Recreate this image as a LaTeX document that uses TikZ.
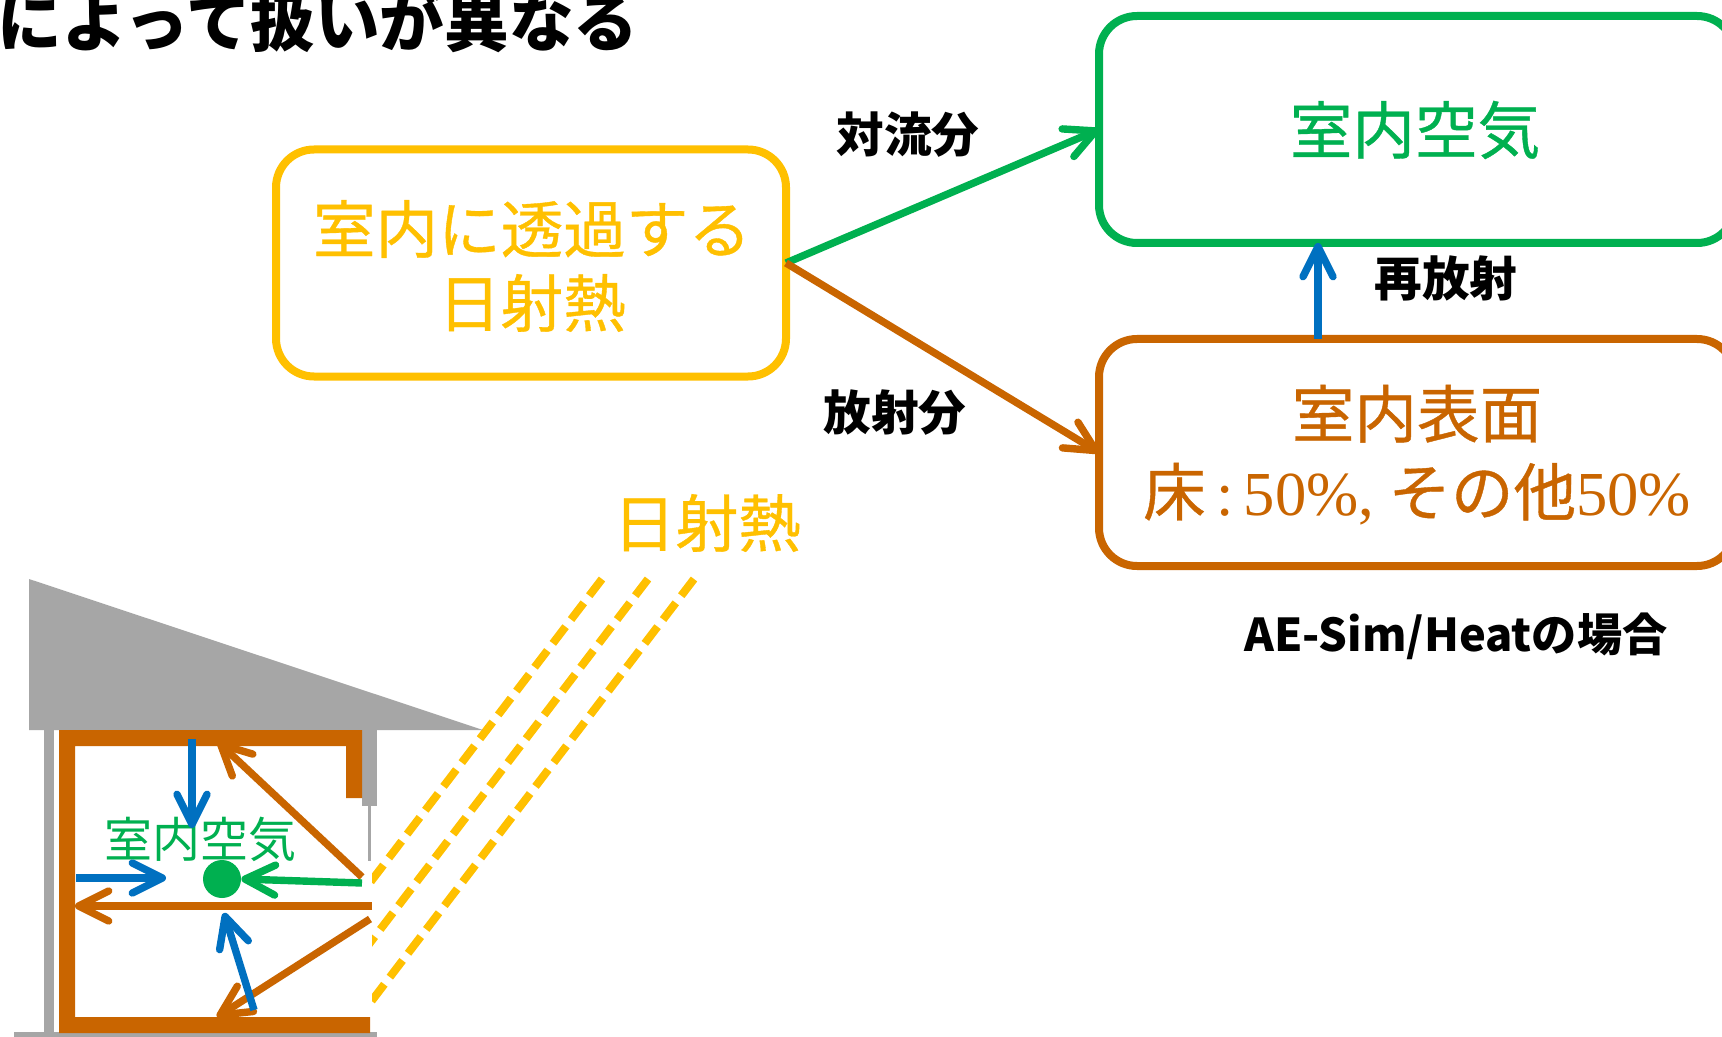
\documentclass[tikz,border=0pt]{standalone}
\usepackage{fontspec}
\setmainfont{Noto Sans CJK JP}
\newfontfamily\heavyfont[FakeBold=0.6]{Noto Sans CJK JP}
\newfontfamily\timesfont{Liberation Serif}
\usetikzlibrary{arrows.meta,calc}
\definecolor{heatYellow}{RGB}{255,192,0}
\definecolor{airGreen}{RGB}{0,176,80}
\definecolor{wallBrown}{RGB}{201,101,0}
\definecolor{radBlue}{RGB}{0,112,192}
\definecolor{houseGray}{RGB}{166,166,166}
\tikzset{
    box/.style={rectangle, rounded corners=19pt, line width=4pt, fill=white, outer sep=0pt,
                minimum height=113.5pt},
    bigtext/.style={font=\fontsize{31.3pt}{36pt}\selectfont\heavyfont, align=center, inner sep=0pt},
    boldtext/.style={font=\fontsize{23.8pt}{28pt}\selectfont\bfseries, text=black, inner sep=0pt},
    flow/.style={-{Straight Barb[length=15pt,width=15pt,round]}, line width=3.7pt}
}
\begin{document}
\begin{tikzpicture}[x=0.5pt,y=-0.5pt]
  \clip (0,0) rectangle (1722,1037);
  \fill[white] (0,0) rectangle (1722,1037);

  % Title cut off at the top
  \node[anchor=base west, inner sep=0pt, font=\fontsize{32.3pt}{36pt}\selectfont\bfseries] (title) at (-3,47) {によって扱いが異なる};

  % Heat flow boxes
  \node[box, draw=heatYellow, minimum width=255pt] (solar) at (531,263) {};
  \node[box, draw=airGreen, minimum width=318pt] (air) at (1417,129.5) {};
  \node[box, draw=wallBrown, minimum width=318pt] (surface) at (1417,452.5) {};

  \node[bigtext, text=heatYellow] (solartext) at (532,266) {室内に透過する\\[1pt]日射熱};
  \node[bigtext, text=airGreen] (airtext) at (1415,130) {室内空気};
  \node[bigtext, text=wallBrown] (surfacetext) at (1417,455) {室内表面\\[3pt]床{\timesfont\,:\,50\%,} その他{\timesfont 50\%}};

  % Connectors
  \draw[flow, airGreen] (solar.east) -- (air.west);
  \draw[flow, wallBrown] (solar.east) -- (surface.west);
  \draw[flow, radBlue] ([xshift=-49.5pt]surface.north) -- ([xshift=-49.5pt]air.south);

  \node[boldtext] (convection) at (908,135) {対流分};
  \node[boldtext] (radiation) at (895,413) {放射分};
  \node[boldtext] (reradiation) at (1446,278) {再放射};
  \node[boldtext, font=\fontsize{22.6pt}{28pt}\selectfont\bfseries] (casenote) at (1456,636) {AE-Sim/Heatの場合};
  \node[bigtext, text=heatYellow] (sunlabel) at (707,523) {日射熱};

  % Sun rays
  \begin{scope}
    \clip (372,570) rectangle (720,1037);
    \foreach \x in {602,648,694} {
      \draw[heatYellow, line width=4pt, dash pattern=on 10.5pt off 4.5pt] (\x,579) -- ({\x-340},1024);
    }
  \end{scope}

  % House
  \fill[houseGray] (29,579) -- (483,730) -- (29,730) -- cycle;
  \fill[houseGray] (44,730) rectangle (54,1033);
  \fill[houseGray] (14,1032) rectangle (377,1037);
  \fill[houseGray] (362,730) rectangle (377,806);
  \fill[houseGray] (368,806) rectangle (371,861);
  \fill[wallBrown] (59,730) -- (362,730) -- (362,798) -- (346,798) -- (346,746) -- (75,746)
    -- (75,1017) -- (370,1017) -- (370,1033) -- (59,1033) -- cycle;

  % Room air
  \node[font=\fontsize{24pt}{28pt}\selectfont, text=airGreen, inner sep=0pt] (roomair) at (200,839) {室内空気};
  \node[circle, fill=airGreen, minimum size=19pt, inner sep=0pt] (airdot) at (222,879) {};

  % Rays and re-radiation in the room
  \draw[flow, wallBrown] (362,877) -- (218,742);
  \draw[flow, wallBrown] (372,906) -- (75,906);
  \draw[flow, wallBrown] (370,919) -- (217,1017);
  \draw[flow, radBlue] (192,739) -- (192,828);
  \draw[flow, radBlue] (76,878) -- (166,878);
  \draw[flow, radBlue] (254,1010) -- (224,913);
  \draw[flow, airGreen] (362,883) -- (airdot.east);
\end{tikzpicture}
\end{document}
